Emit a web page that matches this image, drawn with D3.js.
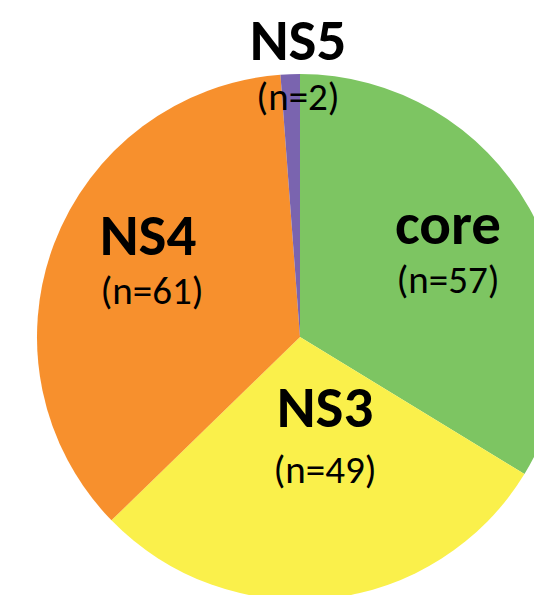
<!DOCTYPE html>
<html><head><meta charset="utf-8">
<script src="https://cdn.jsdelivr.net/npm/d3@7"></script>
<style>html,body{margin:0;padding:0;background:#fff;overflow:hidden}</style>
</head><body>
<svg id="chart" width="534" height="595"></svg>
<script>
const categories = ["core", "NS3", "NS4", "NS5"];
const counts = [57, 49, 61, 2];
const colors = ["#7DC562", "#FAF04B", "#F7902D", "#7A64AF"];
// label anchor positions (name line), chosen to match the reference layout
const labelX = [448, 325, 148, 298];
const labelY = [244, 427, 255, 60];
const subDy = [49, 56, 49, 50];

const svg = d3.select("#chart");
const cx = 300, cy = 337, r = 263;
const g = svg.append("g").attr("transform", `translate(${cx},${cy})`);
const pie = d3.pie().sort(null).value(d => d.v);
const data = categories.map((c, i) => ({c, v: counts[i], i}));
const arcs = pie(data);
const arc = d3.arc().innerRadius(0).outerRadius(r);
g.selectAll("path").data(arcs).enter().append("path")
  .attr("d", arc).attr("fill", d => colors[d.data.i]);

const lab = svg.append("g").attr("font-family", "Carlito, Lato, 'Noto Sans', sans-serif").attr("fill", "#000").attr("text-anchor", "middle");
data.forEach((d, i) => {
  lab.append("text").attr("x", labelX[i]).attr("y", labelY[i])
    .attr("font-size", 59).attr("font-weight", "bold").text(d.c);
  lab.append("text").attr("x", labelX[i] + (i === 2 ? 4 : 0)).attr("y", labelY[i] + subDy[i])
    .attr("font-size", 39).text(`(n=${d.v})`);
});
</script>
</body></html>
